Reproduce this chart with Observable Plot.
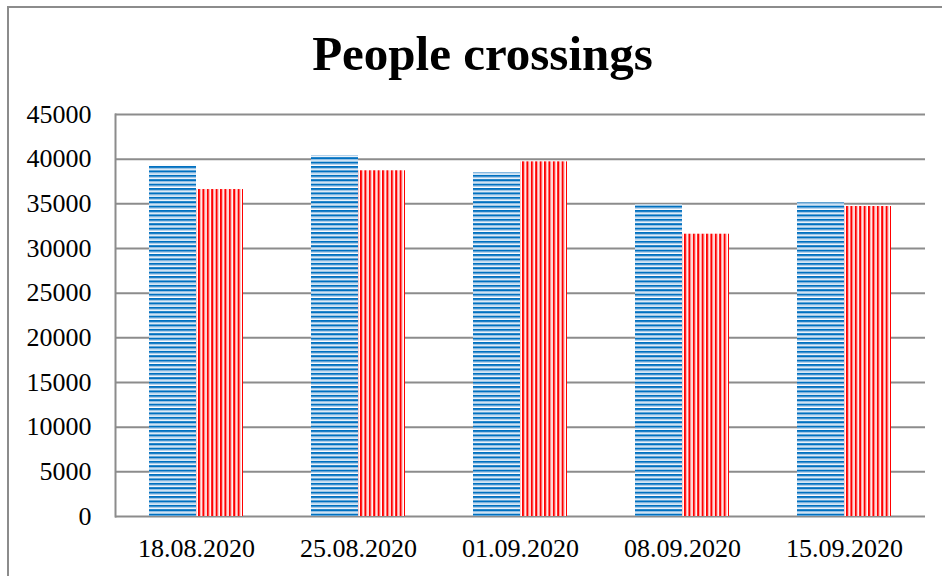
<!DOCTYPE html>
<html>
<head>
<meta charset="utf-8">
<script src="https://cdn.jsdelivr.net/npm/d3@7"></script>
<script src="https://cdn.jsdelivr.net/npm/@observablehq/plot@0.6"></script>
<style>
  html, body { margin: 0; padding: 0; background: #fff; }
  body { width: 942px; height: 576px; position: relative; overflow: hidden; font-family: "Liberation Serif", "Times New Roman", serif; }
  #frame { position: absolute; left: 7px; top: 6px; width: 1000px; height: 700px; border-left: 2px solid #8c8c8c; border-top: 2px solid #8c8c8c; }
  #title { position: absolute; left: 23px; top: 30px; width: 919px; text-align: center; font-family: "Liberation Serif", serif; font-size: 49px; line-height: 48px; font-weight: bold; color: #000; }
  #chart { position: absolute; left: 0; top: 100px; }
  #chart svg text { font-family: "Liberation Serif", serif; }
</style>
</head>
<body>
<div id="frame"></div>
<div id="title">People crossings</div>
<div id="chart"></div>
<script>
const dates = ["18.08.2020", "25.08.2020", "01.09.2020", "08.09.2020", "15.09.2020"];
const seriesNames = ["Series 1", "Series 2"];
const series1Values = [39300, 40400, 38500, 34900, 35100];
const series2Values = [36600, 38700, 39700, 31600, 34700];
const yTicks = [0, 5000, 10000, 15000, 20000, 25000, 30000, 35000, 40000, 45000];

const rows = [];
dates.forEach((d, i) => {
  rows.push({date: d, series: seriesNames[0], value: series1Values[i]});
  rows.push({date: d, series: seriesNames[1], value: series2Values[i]});
});

const chart = Plot.plot({
  width: 942,
  height: 476,
  marginLeft: 115,
  marginRight: 17,
  marginTop: 14,
  marginBottom: 60,
  style: {fontFamily: "\"Liberation Serif\", serif", color: "#000", background: "transparent"},
  fx: {domain: dates, paddingInner: 0, paddingOuter: 0},
  x: {domain: seriesNames, paddingInner: 0, paddingOuter: 0.7234, axis: null},
  y: {domain: [0, 45000]},
  marks: [
    Plot.gridY(yTicks, {stroke: "#8c8c8c", strokeWidth: 2, strokeOpacity: 1}),
    Plot.frame({anchor: "left", facetAnchor: "left", stroke: "#8c8c8c", strokeWidth: 2}),
    Plot.barY(rows.filter(r => r.series === seriesNames[0]), {fx: "date", x: "series", y: "value", fill: "url(#bluePattern)", insetLeft: 0, insetRight: 0}),
    Plot.barY(rows.filter(r => r.series === seriesNames[1]), {fx: "date", x: "series", y: "value", fill: "url(#redPattern)", insetLeft: 0, insetRight: 0}),
    Plot.axisY(yTicks, {tickSize: 0, tickPadding: 24, fontSize: 26, label: null, tickFormat: d => String(d)}),
    Plot.axisFx({anchor: "bottom", tickSize: 0, tickPadding: 22, fontSize: 26, label: null})
  ]
});

// pattern definitions for the striped fills
const ns = "http://www.w3.org/2000/svg";
const defs = document.createElementNS(ns, "defs");
defs.innerHTML = `
  <pattern id="bluePattern" patternUnits="userSpaceOnUse" width="10" height="4.4">
    <rect width="10" height="4.4" fill="#ffffff"/>
    <rect y="0" width="10" height="2.2" fill="#0070C0"/>
    <rect y="2.2" width="10" height="1" fill="#9DC3E6"/>
  </pattern>
  <pattern id="redPattern" patternUnits="userSpaceOnUse" width="4.4" height="10">
    <rect width="4.4" height="10" fill="#ffffff"/>
    <rect x="0" width="2.1" height="10" fill="#FF0000"/>
    <rect x="2.1" width="0.9" height="10" fill="#FF9A9A"/>
  </pattern>`;
chart.insertBefore(defs, chart.firstChild);
document.getElementById("chart").appendChild(chart);
</script>
</body>
</html>
